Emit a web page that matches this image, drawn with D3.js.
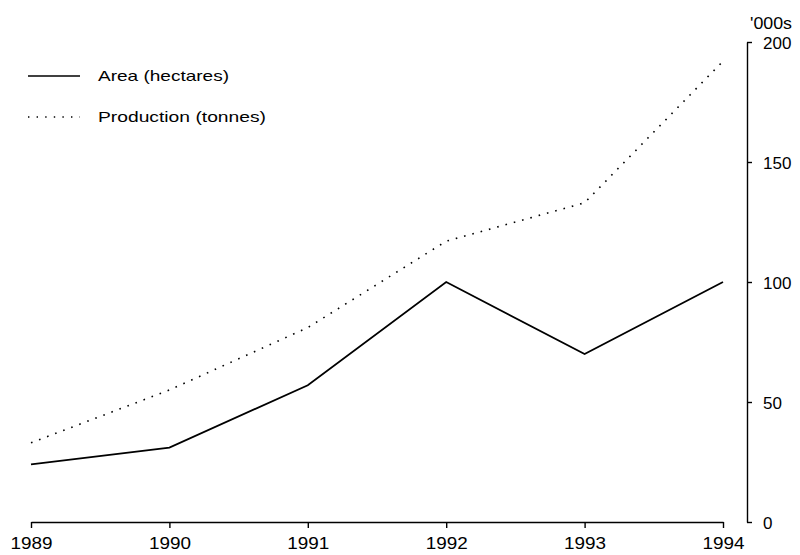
<!DOCTYPE html>
<html>
<head>
<meta charset="utf-8">
<script src="https://cdn.jsdelivr.net/npm/d3@7"></script>
<style>
  body { margin: 0; background: #fff; }
  svg { display: block; font-family: "Liberation Sans", Arial, sans-serif; }
  .axis path, .axis line { stroke: #000; stroke-width: 1.4; }
  .axis text { fill: #000; font-size: 17px; }
</style>
</head>
<body>
<div id="chart"></div>
<script>
const years = [1989, 1990, 1991, 1992, 1993, 1994];
const area = [24, 31, 57, 100, 70, 100];          // '000 hectares
const production = [33, 55, 81, 117, 133, 192];   // '000 tonnes
const yTicks = [0, 50, 100, 150, 200];
const seriesNames = ["Area (hectares)", "Production (tonnes)"];

const width = 800, height = 555;

const svg = d3.select("#chart").append("svg")
    .attr("width", width)
    .attr("height", height);

// scales
const x = d3.scaleLinear()
    .domain([1989, 1994])
    .range([31, 723]);

const y = d3.scaleLinear()
    .domain([0, 200])
    .range([522, 42]);

// x axis along the bottom, ticks pointing down
const xAxis = svg.append("g")
    .attr("class", "axis")
    .attr("transform", "translate(0,522)")
    .call(d3.axisBottom(x).tickValues(years).tickFormat(d3.format("d")).tickSize(6).tickSizeOuter(0).tickPadding(9));
xAxis.selectAll("text").attr("textLength", 42).attr("lengthAdjust", "spacingAndGlyphs");

// y axis on the right
const yAxis = svg.append("g")
    .attr("class", "axis")
    .attr("transform", "translate(747,0)")
    .call(d3.axisRight(y).tickValues(yTicks).tickSize(5).tickSizeOuter(0).tickPadding(11));
yAxis.selectAll("text").attr("dy", "0.36em");

svg.append("text")
    .attr("x", 750)
    .attr("y", 29)
    .attr("font-size", "17px")
    .attr("textLength", 42)
    .attr("lengthAdjust", "spacingAndGlyphs")
    .text("'000s");

// lines
const line = d3.line()
    .x((d, i) => x(years[i]))
    .y(d => y(d));

svg.append("path")
    .datum(area)
    .attr("fill", "none")
    .attr("stroke", "#000")
    .attr("stroke-width", 1.8)
    .attr("d", line);

svg.append("path")
    .datum(production)
    .attr("fill", "none")
    .attr("stroke", "#000")
    .attr("stroke-width", 1.6)
    .attr("stroke-dasharray", "1.6,7")
    .attr("d", line);

// legend
const legend = svg.append("g");
const legendY = [76, 117];
const legendLen = [131, 168];

legend.selectAll("line")
    .data(seriesNames)
    .enter()
    .append("line")
    .attr("x1", 28)
    .attr("x2", 80)
    .attr("y1", (d, i) => legendY[i])
    .attr("y2", (d, i) => legendY[i])
    .attr("stroke", "#000")
    .attr("stroke-width", (d, i) => i === 0 ? 1.4 : 1.4)
    .attr("stroke-dasharray", (d, i) => i === 0 ? null : "1.4,7.2");

legend.selectAll("text")
    .data(seriesNames)
    .enter()
    .append("text")
    .attr("x", 98)
    .attr("y", (d, i) => legendY[i] + 5)
    .attr("font-size", "15px")
    .attr("textLength", (d, i) => legendLen[i])
    .attr("lengthAdjust", "spacingAndGlyphs")
    .text(d => d);
</script>
</body>
</html>
